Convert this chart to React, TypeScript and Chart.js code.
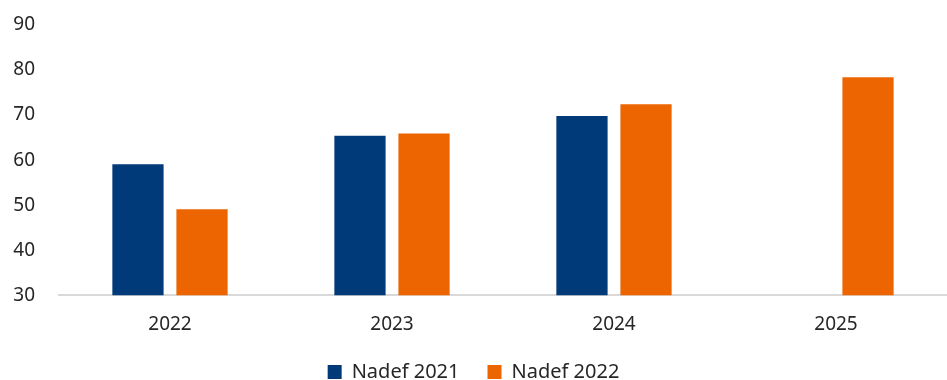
import React, { useEffect, useRef } from "react";
import { Chart, registerables } from "chart.js";

Chart.register(...registerables);

const categories = ["2022", "2023", "2024", "2025"];
const nadef2021 = [59.1, 65.4, 69.8, null];
const nadef2022 = [49.1, 65.9, 72.4, 78.4];
const yTicks = [30, 40, 50, 60, 70, 80, 90];

export default function App() {
  const ref = useRef<HTMLCanvasElement | null>(null);
  useEffect(() => {
    document.body.style.margin = "0";
    const ctx = ref.current!;
    const font = { family: "'Noto Sans', 'DejaVu Sans', sans-serif", size: 19 };
    const legendFont = { family: "'Noto Sans', 'DejaVu Sans', sans-serif", size: 20 };
    const chart = new Chart(ctx, {
      type: "bar",
      data: {
        labels: categories,
        datasets: [
          {
            label: "Nadef 2021",
            data: nadef2021 as any,
            backgroundColor: "#003A78",
            categoryPercentage: 0.577,
            barPercentage: 0.8,
          },
          {
            label: "Nadef 2022",
            data: nadef2022,
            backgroundColor: "#EC6500",
            categoryPercentage: 0.577,
            barPercentage: 0.8,
          },
        ],
      },
      options: {
        animation: false,
        responsive: false,
        maintainAspectRatio: false,
        layout: { padding: { top: 25, right: 0, left: 0, bottom: -12 } },
        plugins: {
          tooltip: { enabled: false },
          legend: {
            position: "bottom",
            labels: {
              font: legendFont,
              color: "#262626",
              boxWidth: 14,
              boxHeight: 14,
              padding: 28,
            },
          },
        },
        scales: {
          x: {
            grid: { display: false },
            border: { display: true, color: "#d9d9d9", width: 2 },
            ticks: { font, color: "#262626", padding: 10 },
            afterFit: (axis: any) => {
              axis.height = axis.height - 12;
            },
          },
          y: {
            min: 30,
            max: 90,
            afterBuildTicks: (axis: any) => {
              axis.ticks = yTicks.map((v) => ({ value: v }));
            },
            afterFit: (axis: any) => {
              axis.width = 59;
            },
            grid: { display: false, tickLength: 22 },
            border: { display: false },
            ticks: { font, color: "#262626", padding: 2 },
          },
        },
      },
    });
    return () => chart.destroy();
  }, []);
  return (
    <div style={{ position: "absolute", left: 0, top: 0, width: 947, height: 380 }}>
      <canvas ref={ref} width={947} height={380} />
    </div>
  );
}
